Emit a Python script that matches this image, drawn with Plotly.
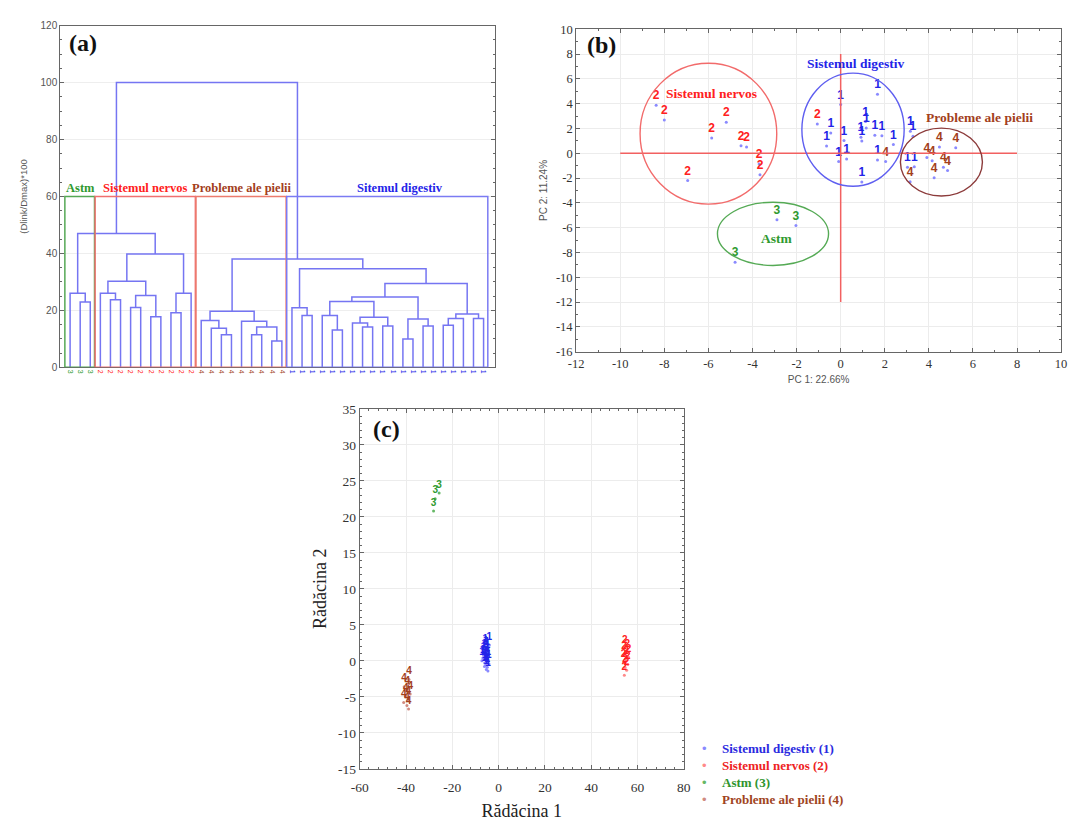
import plotly.graph_objects as go

SERIF = "Liberation Serif, Times New Roman, serif"
SANS = "Liberation Sans, Arial, sans-serif"

# ---------------- (a) hierarchical clustering (dendrogram) ----------------
leaf_groups = [3] * 3 + [2] * 10 + [4] * 9 + [1] * 20
link_left = [1, 0, 4, 3, 6, 8, 46, 45, 10, 50, 49, 43, 15, 14, 13, 18, 20, 57, 17, 56,
             23, 22, 26, 25, 29, 28, 31, 67, 65, 33, 35, 71, 70, 37, 75, 40, 76, 74, 63, 61, 53]
link_right = [2, 42, 5, 44, 7, 9, 47, 48, 11, 12, 51, 52, 16, 54, 55, 19, 21, 58, 59, 60,
              24, 62, 27, 64, 30, 66, 32, 68, 69, 34, 36, 72, 73, 38, 39, 41, 77, 78, 79, 80, 81]
link_height = [22.9, 26.0, 23.7, 26.0, 21.0, 17.8, 25.2, 30.2, 19.2, 26.0, 39.8, 47.0,
               11.4, 13.7, 16.4, 11.4, 9.2, 14.2, 16.2, 19.7,
               18.2, 20.9, 13.1, 18.2, 14.2, 15.6, 14.5, 17.6, 23.1, 9.9, 14.5, 17.0, 24.7,
               14.8, 17.1, 17.1, 18.7, 29.4, 34.6, 38.0, 100.0]
cluster_names = ["Astm", "Sistemul nervos", "Probleme ale pielii", "Sitemul digestiv"]
cluster_first = [0, 3, 13, 22]
cluster_last = [2, 12, 21, 41]
cluster_groups = [3, 2, 4, 1]
cut_height = 60

# ---------------- (b) PCA scores ----------------
pc1_g1 = [1.67, 0.0, -0.45, -0.64, 0.15, 1.13, 1.16, 0.96, 0.92, 1.55,
          1.87, 2.39, 3.16, 3.28, -0.09, 0.27, 1.67, 0.96, 3.03, 3.34]
pc2_g1 = [4.75, 3.93, 1.64, 0.58, 1.03, 2.56, 2.03, 0.98, 1.30, 1.45,
          1.42, 0.71, 1.77, 1.37, -0.66, -0.47, -0.55, -2.32, -1.13, -1.08]
pc1_g2 = [-8.37, -8.0, -5.19, -5.85, -4.52, -4.27, -3.70, -3.66, -6.94, -1.06]
pc2_g2 = [3.88, 2.69, 2.51, 1.24, 0.61, 0.50, -0.87, -1.74, -2.19, 2.37]
pc1_g3 = [-2.89, -2.03, -4.79]
pc2_g3 = [-5.36, -5.83, -8.79]
pc1_g4 = [2.04, 4.48, 5.22, 3.91, 4.15, 4.66, 4.85, 4.24, 3.15]
pc2_g4 = [-0.66, 0.50, 0.45, -0.34, -0.61, -1.13, -1.40, -1.98, -2.30]

ellipse_groups = [2, 1, 4, 3]
ellipse_names = ["Sistemul nervos", "Sistemul digestiv", "Probleme ale pielii", "Astm"]
ellipse_cx = [-6.0, 0.56, 4.57, -3.07]
ellipse_cy = [1.58, 1.90, -0.71, -6.50]
ellipse_rx = [3.10, 2.32, 1.86, 2.52]
ellipse_ry = [5.68, 4.56, 2.74, 2.55]
ellipse_label_x = [-5.87, 0.69, 6.30, -2.89]
ellipse_label_y = [4.80, 7.26, 2.88, -6.86]

pc1_ticks = [-12, -10, -8, -6, -4, -2, 0, 2, 4, 6, 8, 10]
pc2_ticks = [-16, -14, -12, -10, -8, -6, -4, -2, 0, 2, 4, 6, 8, 10]

# ---------------- (c) discriminant roots ----------------
r1_g1 = [-4.0, -5.5, -6.2, -4.8, -5.0, -6.8, -5.9, -4.5, -5.2, -6.0,
         -4.2, -5.6, -6.5, -4.9, -5.3, -7.2, -5.8, -4.6, -6.1, -5.0]
r2_g1 = [2.2, 1.6, 1.2, 1.0, 0.6, 0.4, 0.2, 0.1, -0.1, -0.3,
         -0.4, -0.6, 0.8, -0.9, -1.2, 0.0, 1.9, -1.4, -0.8, 1.4]
r1_g2 = [54.5, 55.6, 54.2, 56.1, 55.0, 54.0, 55.8, 54.6, 55.3, 54.3]
r2_g2 = [1.8, 1.2, 0.9, 0.5, 0.2, -0.2, -0.5, -0.9, -1.3, -2.0]
r1_g3 = [-25.7, -27.4, -28.1]
r2_g3 = [23.3, 22.5, 20.8]
r1_g4 = [-38.7, -40.8, -39.5, -38.2, -40.1, -39.0, -41.0, -39.6, -38.9]
r2_g4 = [-2.6, -3.6, -4.0, -4.6, -5.0, -5.4, -5.8, -6.2, -6.7]

root1_ticks = [-60, -40, -20, 0, 20, 40, 60, 80]
root2_ticks = [-15, -10, -5, 0, 5, 10, 15, 20, 25, 30, 35]

legend_names = ["Sistemul digestiv (1)", "Sistemul nervos (2)", "Astm (3)", "Probleme ale pielii (4)"]
legend_groups = [1, 2, 3, 4]

TEXT_COL = {1: "#2424e8", 2: "#ff2020", 3: "#2f9a2f", 4: "#a3401c"}
LEG_COL = {1: "#2a2ae0", 2: "#ee2222", 3: "#2e952e", 4: "#a0441e"}
BOX_COL = {1: "#7b7bf3", 2: "#f07070", 3: "#55a855", 4: "#ec7b6e"}
ELL_COL = {1: "#5f5ff0", 2: "#f26b6b", 3: "#55aa55", 4: "#8c3b3b"}
DOT_COL = {1: "#8a8aff", 2: "#ff8a8a", 3: "#66b866", 4: "#d08a80"}
LINK_COL = "#7575f2"
FRAME = "#666666"

fig = go.Figure()

# ---------- (a) dendrogram ----------
n = len(leaf_groups)
pos = list(range(n))
hts = [0.0] * n
dx, dy = [], []
for a, b, h in zip(link_left, link_right, link_height):
    xa, xb = pos[a], pos[b]
    dx += [xa, xa, xb, xb, None]
    dy += [hts[a], h, h, hts[b], None]
    pos.append((xa + xb) / 2)
    hts.append(h)
fig.add_trace(go.Scatter(x=dx, y=dy, mode="lines", line=dict(color=LINK_COL, width=1.5),
                         xaxis="x", yaxis="y", showlegend=False, hoverinfo="skip"))

shapes = []
annotations = []
for name, f, l, g in zip(cluster_names, cluster_first, cluster_last, cluster_groups):
    shapes.append(dict(type="rect", xref="x", yref="y", x0=f - 0.52, x1=l + 0.42, y0=0, y1=cut_height,
                       line=dict(color=BOX_COL[g], width=1.5)))
    annotations.append(dict(xref="x", yref="y", x=(f + l) / 2, y=cut_height, yanchor="bottom",
                            text=f"<b>{name}</b>", showarrow=False, yshift=-1,
                            xshift=12 if g == 1 else 0,
                            font=dict(family=SERIF, size=12.5, color=TEXT_COL[g])))

# ---------- (b) PCA ----------
pc_sets = [(1, pc1_g1, pc2_g1), (2, pc1_g2, pc2_g2), (3, pc1_g3, pc2_g3), (4, pc1_g4, pc2_g4)]
for g, xv, yv in pc_sets:
    fig.add_trace(go.Scatter(x=xv, y=yv, mode="markers+text", text=[str(g)] * len(xv),
                             textposition="top center",
                             textfont=dict(family=SANS, size=12, color=TEXT_COL[g], weight="bold"),
                             marker=dict(size=3, color="#8a8aff"),
                             xaxis="x2", yaxis="y2", showlegend=False, hoverinfo="skip"))
shapes.append(dict(type="line", xref="x2", yref="y2", x0=-10, x1=8, y0=0, y1=0,
                   line=dict(color="#f26060", width=1.5)))
shapes.append(dict(type="line", xref="x2", yref="y2", x0=0, x1=0, y0=-12, y1=8,
                   line=dict(color="#f26060", width=1.5)))
for g, name, cx, cy, rx, ry, lx, ly in zip(ellipse_groups, ellipse_names, ellipse_cx, ellipse_cy,
                                           ellipse_rx, ellipse_ry, ellipse_label_x, ellipse_label_y):
    shapes.append(dict(type="circle", xref="x2", yref="y2", x0=cx - rx, x1=cx + rx,
                       y0=cy - ry, y1=cy + ry, line=dict(color=ELL_COL[g], width=1.4)))
    annotations.append(dict(xref="x2", yref="y2", x=lx, y=ly, text=f"<b>{name}</b>", showarrow=False,
                            font=dict(family=SERIF, size=13.5, color=TEXT_COL[g])))

# ---------- (c) discriminant ----------
r_sets = [(1, r1_g1, r2_g1), (2, r1_g2, r2_g2), (3, r1_g3, r2_g3), (4, r1_g4, r2_g4)]
for g, xv, yv in r_sets:
    fig.add_trace(go.Scatter(x=xv, y=yv, mode="markers+text", text=[str(g)] * len(xv),
                             textposition="top center",
                             textfont=dict(family=SANS, size=10, color=TEXT_COL[g], weight="bold"),
                             marker=dict(size=3, color=DOT_COL[g]),
                             xaxis="x3", yaxis="y3", showlegend=False, hoverinfo="skip"))

# legend block for (c): coloured dots and bold labels
annotations.append(dict(xref="paper", yref="paper", x=722 / 1076, y=1 - 781 / 823,
                        xanchor="left", yanchor="middle", align="left", showarrow=False,
                        text="<br>".join(f"<span style='color:{LEG_COL[g]}'><b>{nm}</b></span>"
                                         for nm, g in zip(legend_names, legend_groups)),
                        font=dict(family=SERIF, size=13)))
annotations.append(dict(xref="paper", yref="paper", x=706 / 1076, y=1 - 781 / 823,
                        xanchor="center", yanchor="middle", align="center", showarrow=False,
                        text="<br>".join(f"<span style='color:{DOT_COL[g]}'>•</span>" for g in legend_groups),
                        font=dict(family=SANS, size=13)))

# panel letters
for letter, px, py in [("(a)", 75, 37), ("(b)", 601, 39), ("(c)", 383, 430)]:
    annotations.append(dict(xref="paper", yref="paper", x=px / 1076, y=1 - py / 823, text=f"<b>{letter}</b>",
                            showarrow=False, xanchor="center", yanchor="middle",
                            font=dict(family=SERIF, size=24, color="#111111")))

common = dict(showline=True, linecolor=FRAME, linewidth=1, mirror="allticks", zeroline=False,
              ticks="inside", ticklen=4, tickcolor=FRAME)

tick_text = [f"<span style='color:{TEXT_COL[g]}'>{g}</span>" for g in leaf_groups]

fig.update_layout(
    width=1076, height=823, margin=dict(l=0, r=0, t=0, b=0),
    paper_bgcolor="white", plot_bgcolor="white",
    showlegend=False,
    xaxis=dict(domain=[52 / 1076, 493 / 1076], range=[-0.98, 42.1], anchor="y",
               tickvals=list(range(n)), ticktext=tick_text, tickangle=90,
               tickfont=dict(family=SANS, size=7), showgrid=False,
               showline=True, linecolor=FRAME, mirror=True, zeroline=False, ticks=""),
    yaxis=dict(domain=[1 - 367 / 823, 1 - 19 / 823], range=[0, 120], dtick=20, anchor="x",
               showgrid=True, gridcolor="#eeeeee",
               tickfont=dict(family=SANS, size=10, color="#555555"),
               title=dict(text="(Dlink/Dmax)*100", font=dict(family=SANS, size=9.5, color="#555555"), standoff=11),
               minor=dict(ticks="inside", ticklen=2, dtick=5, tickcolor=FRAME),
               **common),
    xaxis2=dict(domain=[575.7 / 1076, 1068 / 1076], range=[-12, 10], anchor="y2",
                tickvals=pc1_ticks, ticktext=[str(v) for v in pc1_ticks],
                showgrid=True, gridcolor="#ececec",
                tickfont=dict(family=SERIF, size=12.5, color="#333333"),
                title=dict(text="PC 1: 22.66%", font=dict(family=SANS, size=10, color="#555555"), standoff=6),
                minor=dict(ticks="inside", ticklen=2, dtick=1, tickcolor=FRAME),
                **common),
    yaxis2=dict(domain=[1 - 351 / 823, 1 - 22.7 / 823], range=[-16, 10], anchor="x2",
                tickvals=pc2_ticks, ticktext=[str(v) for v in pc2_ticks],
                showgrid=True, gridcolor="#ececec",
                tickfont=dict(family=SERIF, size=12.5, color="#333333"),
                title=dict(text="PC 2: 11.24%", font=dict(family=SANS, size=10, color="#555555"), standoff=6),
                minor=dict(ticks="inside", ticklen=2, dtick=1, tickcolor=FRAME),
                **common),
    xaxis3=dict(domain=[356 / 1076, 685 / 1076], range=[-60, 80], anchor="y3",
                tickvals=root1_ticks, ticktext=[str(v) for v in root1_ticks],
                showgrid=True, gridcolor="#ececec", ticklabelstandoff=6,
                tickfont=dict(family=SERIF, size=13.5, color="#333333"),
                title=dict(text="Rădăcina 1", font=dict(family=SERIF, size=18, color="#222222"), standoff=10),
                minor=dict(ticks="inside", ticklen=2, dtick=4, tickcolor=FRAME),
                **common),
    yaxis3=dict(domain=[1 - 776 / 823, 1 - 409.3 / 823], range=[-15, 35], anchor="x3",
                tickvals=root2_ticks, ticktext=[str(v) for v in root2_ticks],
                showgrid=True, gridcolor="#ececec",
                tickfont=dict(family=SERIF, size=13.5, color="#333333"),
                title=dict(text="Rădăcina 2", font=dict(family=SERIF, size=18, color="#222222"), standoff=6),
                minor=dict(ticks="inside", ticklen=2, dtick=1, tickcolor=FRAME),
                **common),
    shapes=shapes,
    annotations=annotations,
)

fig.write_html("out.html")
